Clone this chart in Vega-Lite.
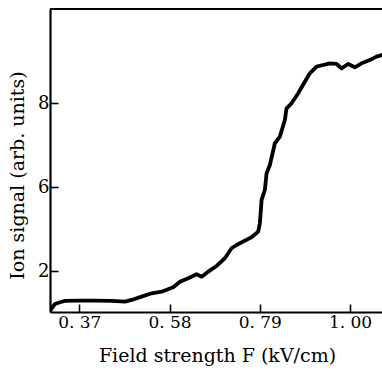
{
  "$schema": "https://vega.github.io/schema/vega-lite/v6.json",
  "width": 332,
  "height": 303,
  "autosize": {"type": "none"},
  "padding": {"left": 50, "top": 9, "right": 0, "bottom": 58},
  "background": "white",
  "config": {
    "view": {"stroke": null},
    "axis": {"grid": false, "domainColor": "black", "tickColor": "black", "labelColor": "black", "titleColor": "black", "labelFont": "DejaVu Serif", "titleFont": "DejaVu Serif", "titleFontWeight": "normal"}
  },
  "data": {"values": [
    {"F": 0.302, "S": 3.04},
    {"F": 0.3058, "S": 3.119},
    {"F": 0.3135, "S": 3.221},
    {"F": 0.3251, "S": 3.262},
    {"F": 0.3367, "S": 3.293},
    {"F": 0.3677, "S": 3.30},
    {"F": 0.4065, "S": 3.30},
    {"F": 0.4453, "S": 3.293},
    {"F": 0.4763, "S": 3.276},
    {"F": 0.4919, "S": 3.317},
    {"F": 0.5151, "S": 3.395},
    {"F": 0.5384, "S": 3.476},
    {"F": 0.5616, "S": 3.514},
    {"F": 0.5886, "S": 3.619},
    {"F": 0.6042, "S": 3.752},
    {"F": 0.6235, "S": 3.833},
    {"F": 0.643, "S": 3.929},
    {"F": 0.6547, "S": 3.871},
    {"F": 0.67, "S": 3.99},
    {"F": 0.6895, "S": 4.126},
    {"F": 0.7088, "S": 4.31},
    {"F": 0.7244, "S": 4.548},
    {"F": 0.736, "S": 4.626},
    {"F": 0.7553, "S": 4.729},
    {"F": 0.7709, "S": 4.81},
    {"F": 0.7863, "S": 4.943},
    {"F": 0.7902, "S": 5.143},
    {"F": 0.7926, "S": 5.46},
    {"F": 0.7942, "S": 5.698},
    {"F": 0.8019, "S": 5.936},
    {"F": 0.8058, "S": 6.333},
    {"F": 0.8135, "S": 6.531},
    {"F": 0.8251, "S": 7.048},
    {"F": 0.8367, "S": 7.205},
    {"F": 0.8484, "S": 7.602},
    {"F": 0.8523, "S": 7.881},
    {"F": 0.864, "S": 8.0},
    {"F": 0.8793, "S": 8.238},
    {"F": 0.8949, "S": 8.514},
    {"F": 0.9065, "S": 8.714},
    {"F": 0.9221, "S": 8.871},
    {"F": 0.9374, "S": 8.912},
    {"F": 0.953, "S": 8.952},
    {"F": 0.9686, "S": 8.936},
    {"F": 0.9802, "S": 8.833},
    {"F": 0.9956, "S": 8.936},
    {"F": 1.0112, "S": 8.857},
    {"F": 1.0267, "S": 8.952},
    {"F": 1.046, "S": 9.031},
    {"F": 1.0616, "S": 9.11},
    {"F": 1.074, "S": 9.15}
  ]},
  "layer": [
    {
      "mark": {"type": "line", "color": "black", "strokeWidth": 3.8, "strokeJoin": "round", "strokeCap": "round", "clip": true},
      "encoding": {
        "x": {
          "field": "F", "type": "quantitative",
          "scale": {"domain": [0.3019, 1.0744], "nice": false, "zero": false},
          "axis": {
            "values": [0.37, 0.58, 0.79, 1.0],
            "labelExpr": "replace(format(datum.value, '.2f'), '.', '. ')",
            "domainWidth": 2.2, "tickWidth": 1.6, "tickSize": -8, "labelPadding": 10,
            "labelFontSize": 17, "labelBaseline": "top",
            "title": "Field strength F (kV/cm)", "titleFontSize": 19,
            "titleX": 167, "titleY": 49, "titleBaseline": "alphabetic", "titleAnchor": "middle", "titleAlign": "center"
          }
        },
        "y": {
          "field": "S", "type": "quantitative",
          "scale": {"domain": [3.03, 10.245], "nice": false, "zero": false},
          "axis": {
            "values": [4, 6, 8],
            "labelExpr": "datum.value == 4 ? '2' : datum.label",
            "domainWidth": 2.2, "tickWidth": 1.6, "tickSize": -8, "labelPadding": 9,
            "labelFontSize": 18,
            "title": "Ion signal (arb. units)", "titleFontSize": 19,
            "titleX": -33, "titleY": 166, "titleBaseline": "middle", "titleAngle": -90, "titleAlign": "center"
          }
        }
      }
    },
    {
      "mark": {"type": "rule", "color": "black", "strokeWidth": 1.5},
      "encoding": {
        "y": {"datum": 10.245, "type": "quantitative"}
      }
    }
  ]
}
